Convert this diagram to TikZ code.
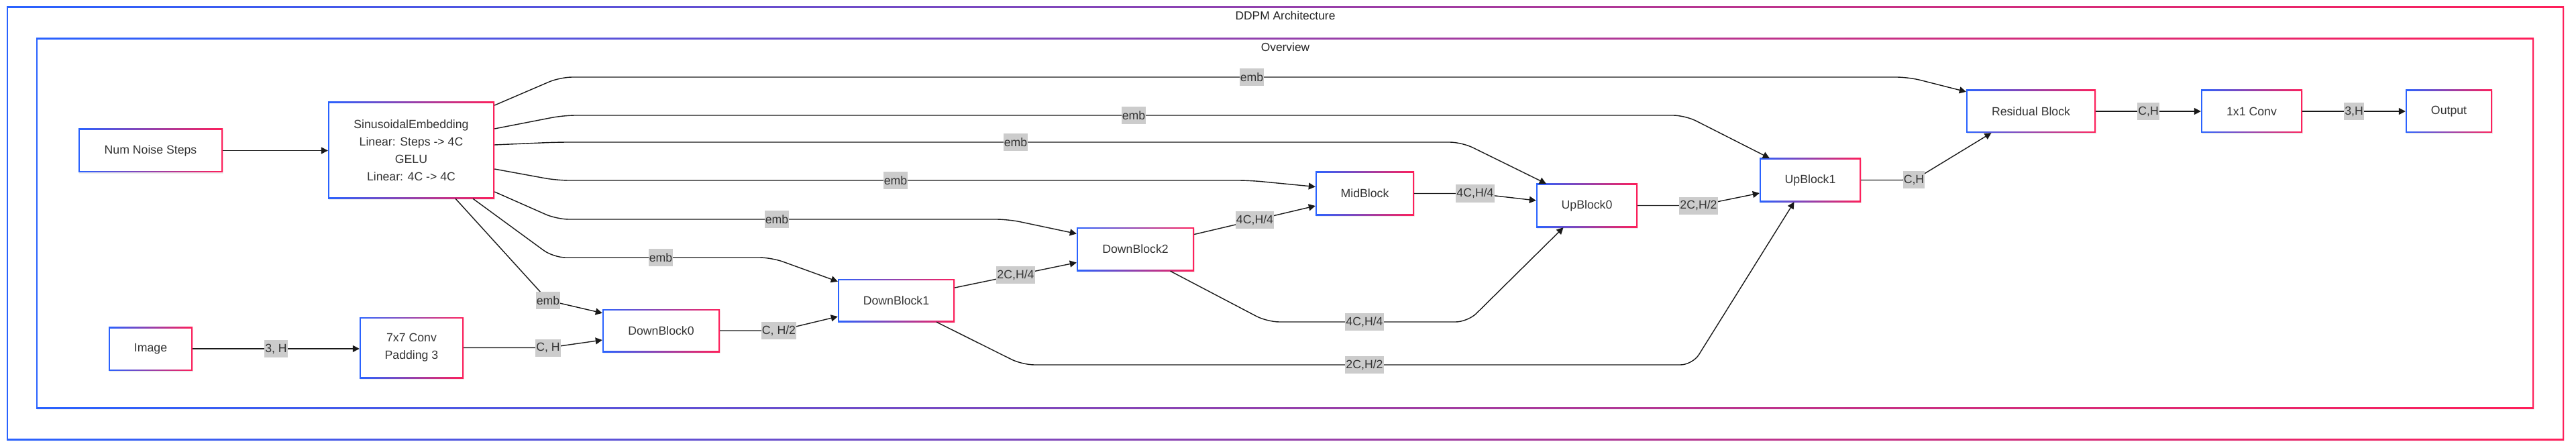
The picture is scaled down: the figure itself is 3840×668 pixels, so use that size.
\documentclass[tikz,border=0pt]{standalone}
\usepackage{fontspec}
\setmainfont{Liberation Sans}
\usetikzlibrary{arrows.meta,shadows,calc}
\definecolor{gblue}{HTML}{2962FF}
\definecolor{gred}{HTML}{FF1F5A}
\definecolor{txt}{HTML}{333333}
\definecolor{lblbg}{HTML}{CCCCCC}
\tikzset{
  gborder/.style={path picture={
    \shade[left color=gblue,right color=gred]
      (path picture bounding box.south west) rectangle (path picture bounding box.north east);
    \fill[white]
      ([shift={(#1,#1)}]path picture bounding box.south west) rectangle
      ([shift={(-#1,-#1)}]path picture bounding box.north east);
  }},
  blk/.style={rectangle, fill=white, gborder=2pt, inner sep=0pt, align=center,
    text=txt, font=\fontsize{17.7}{26}\selectfont,
    drop shadow={opacity=0.12, shadow xshift=1pt, shadow yshift=-2pt}},
  frame/.style={rectangle, fill=white, gborder=2pt, inner sep=0pt,
    drop shadow={opacity=0.10, shadow xshift=1pt, shadow yshift=-2pt}},
  ttl/.style={text=black!85, font=\fontsize{17.4}{20}\selectfont, inner sep=0pt},
  conn/.style={draw=black!90, line width=1.4pt, rounded corners=18pt,
    -{Triangle[length=10pt,width=10pt]}},
  lbl/.style={fill=lblbg, text=txt, font=\fontsize{17.7}{20}\selectfont,
    inner xsep=1pt, inner ysep=0pt, minimum height=26pt, rounded corners=0pt}
}
\begin{document}
\begin{tikzpicture}[x=1pt,y=-1pt]
\useasboundingbox (0,0) rectangle (3840,668);
\fill[white] (0,0) rectangle (3840,668);

% frames
\node[frame, minimum width=3812pt, minimum height=646pt] (outer) at (1916,333) {};
\node[ttl] (t1) at (1916,23) {DDPM Architecture};
\node[frame, minimum width=3723pt, minimum height=552pt] (inner) at (1915.5,333) {};
\node[ttl] (t2) at (1916,70) {Overview};

% blocks
\node[blk, minimum width=215pt, minimum height=65pt] (nns) at (224.5,224.5) {Num Noise Steps};
\node[blk, minimum width=248pt, minimum height=144pt] (sin) at (613,224)
  {SinusoidalEmbedding\\Linear: Steps -> 4C\\GELU\\Linear: 4C -> 4C};
\node[blk, minimum width=125pt, minimum height=65pt] (img) at (224.5,520) {Image};
\node[blk, minimum width=155pt, minimum height=91pt] (conv) at (613.5,518.5) {7x7 Conv\\Padding 3};
\node[blk, minimum width=175pt, minimum height=64pt] (db0) at (985.5,493) {DownBlock0};
\node[blk, minimum width=174pt, minimum height=64pt] (db1) at (1336,448) {DownBlock1};
\node[blk, minimum width=175pt, minimum height=65pt] (db2) at (1692.5,371.5) {DownBlock2};
\node[blk, minimum width=147pt, minimum height=65pt] (mid) at (2034.5,288.5) {MidBlock};
\node[blk, minimum width=151pt, minimum height=65pt] (up0) at (2365.5,306.5) {UpBlock0};
\node[blk, minimum width=151pt, minimum height=65pt] (up1) at (2698.5,268.5) {UpBlock1};
\node[blk, minimum width=193pt, minimum height=64pt] (res) at (3027.5,166) {Residual Block};
\node[blk, minimum width=151pt, minimum height=64pt] (c1) at (3356.5,166) {1x1 Conv};
\node[blk, minimum width=129pt, minimum height=64pt] (out) at (3650.5,166) {Output};

% embedding edges
\draw[conn] ([yshift=67pt]sin.east) -- (835,115) -- (1866,115) node[lbl] (e1) {emb} -- (2845,115) -- ([yshift=-3pt]res.north west);
\draw[conn] ([yshift=32pt]sin.east) -- (840,172) -- (1690,172) node[lbl] (e2) {emb} -- (2512,172) -- ([xshift=15pt]up1.north west);
\draw[conn] ([yshift=8pt]sin.east) -- (830,212) -- (1514,212) node[lbl] (e3) {emb} -- (2179,212) -- ([xshift=15pt]up0.north west);
\draw[conn] ([yshift=-28pt]sin.east) -- (830,269) -- (1335,269) node[lbl] (e4) {emb} -- (1863,269) -- ([yshift=10pt]mid.west);
\draw[conn] ([yshift=-62pt]sin.east) -- (830,327) -- (1158,327) node[lbl] (e5) {emb} -- (1503,327) -- ([yshift=23pt]db2.west);
\draw[conn] ([xshift=92pt]sin.south) -- (825,384) -- (985,384) node[lbl] (e6) {emb} -- (1150,384) -- ([yshift=-4pt]db1.north west);
\draw[conn] ([xshift=66pt]sin.south) -- (817,448) node[lbl] (e7) {emb} -- ([yshift=-6pt]db0.north west);

% data edges
\draw[conn] (nns.east) -- (nns.east -| sin.west);
\draw[conn] (img.east) -- node[lbl] (d1) {3, H} (img.east -| conv.west);
\draw[conn] (conv.east) -- (817,518.5) node[lbl] (d2) {C, H} -- ([yshift=-14pt]db0.west);
\draw[conn] (db0.east) -- (1161,493) node[lbl] (d3) {C, H/2} -- ([yshift=-24pt]db1.west);
\draw[conn] ([yshift=19pt]db1.east) -- node[lbl] (d4) {2C,H/4} ([yshift=-20pt]db2.west);
\draw[conn] ([yshift=22pt]db2.east) -- node[lbl] (d5) {4C,H/4} ([yshift=-18.5pt]mid.west);
\draw[conn] ([xshift=52pt]db2.south) -- (1889,480) -- (2034,480) node[lbl] (d6) {4C,H/4} -- (2188,480) -- ([xshift=-35pt]up0.south);
\draw[conn] ([xshift=60pt]db1.south) -- (1524,544) -- (2034,544) node[lbl] (d7) {2C,H/2} -- (2523,544) -- ([xshift=-24pt]up1.south);
\draw[conn] (mid.east) -- (2199,288.5) node[lbl] (d8) {4C,H/4} -- ([yshift=7.5pt]up0.west);
\draw[conn] (up0.east) -- (2532,306.5) node[lbl] (d9) {2C,H/2} -- ([yshift=-19.5pt]up1.west);
\draw[conn] (up1.east) -- (2853,268.5) node[lbl] (d10) {C,H} -- ([xshift=-59pt]res.south);
\draw[conn] (res.east) -- node[lbl] (d11) {C,H} (c1.west);
\draw[conn] (c1.east) -- node[lbl] (d12) {3,H} (out.west);
\end{tikzpicture}
\end{document}
